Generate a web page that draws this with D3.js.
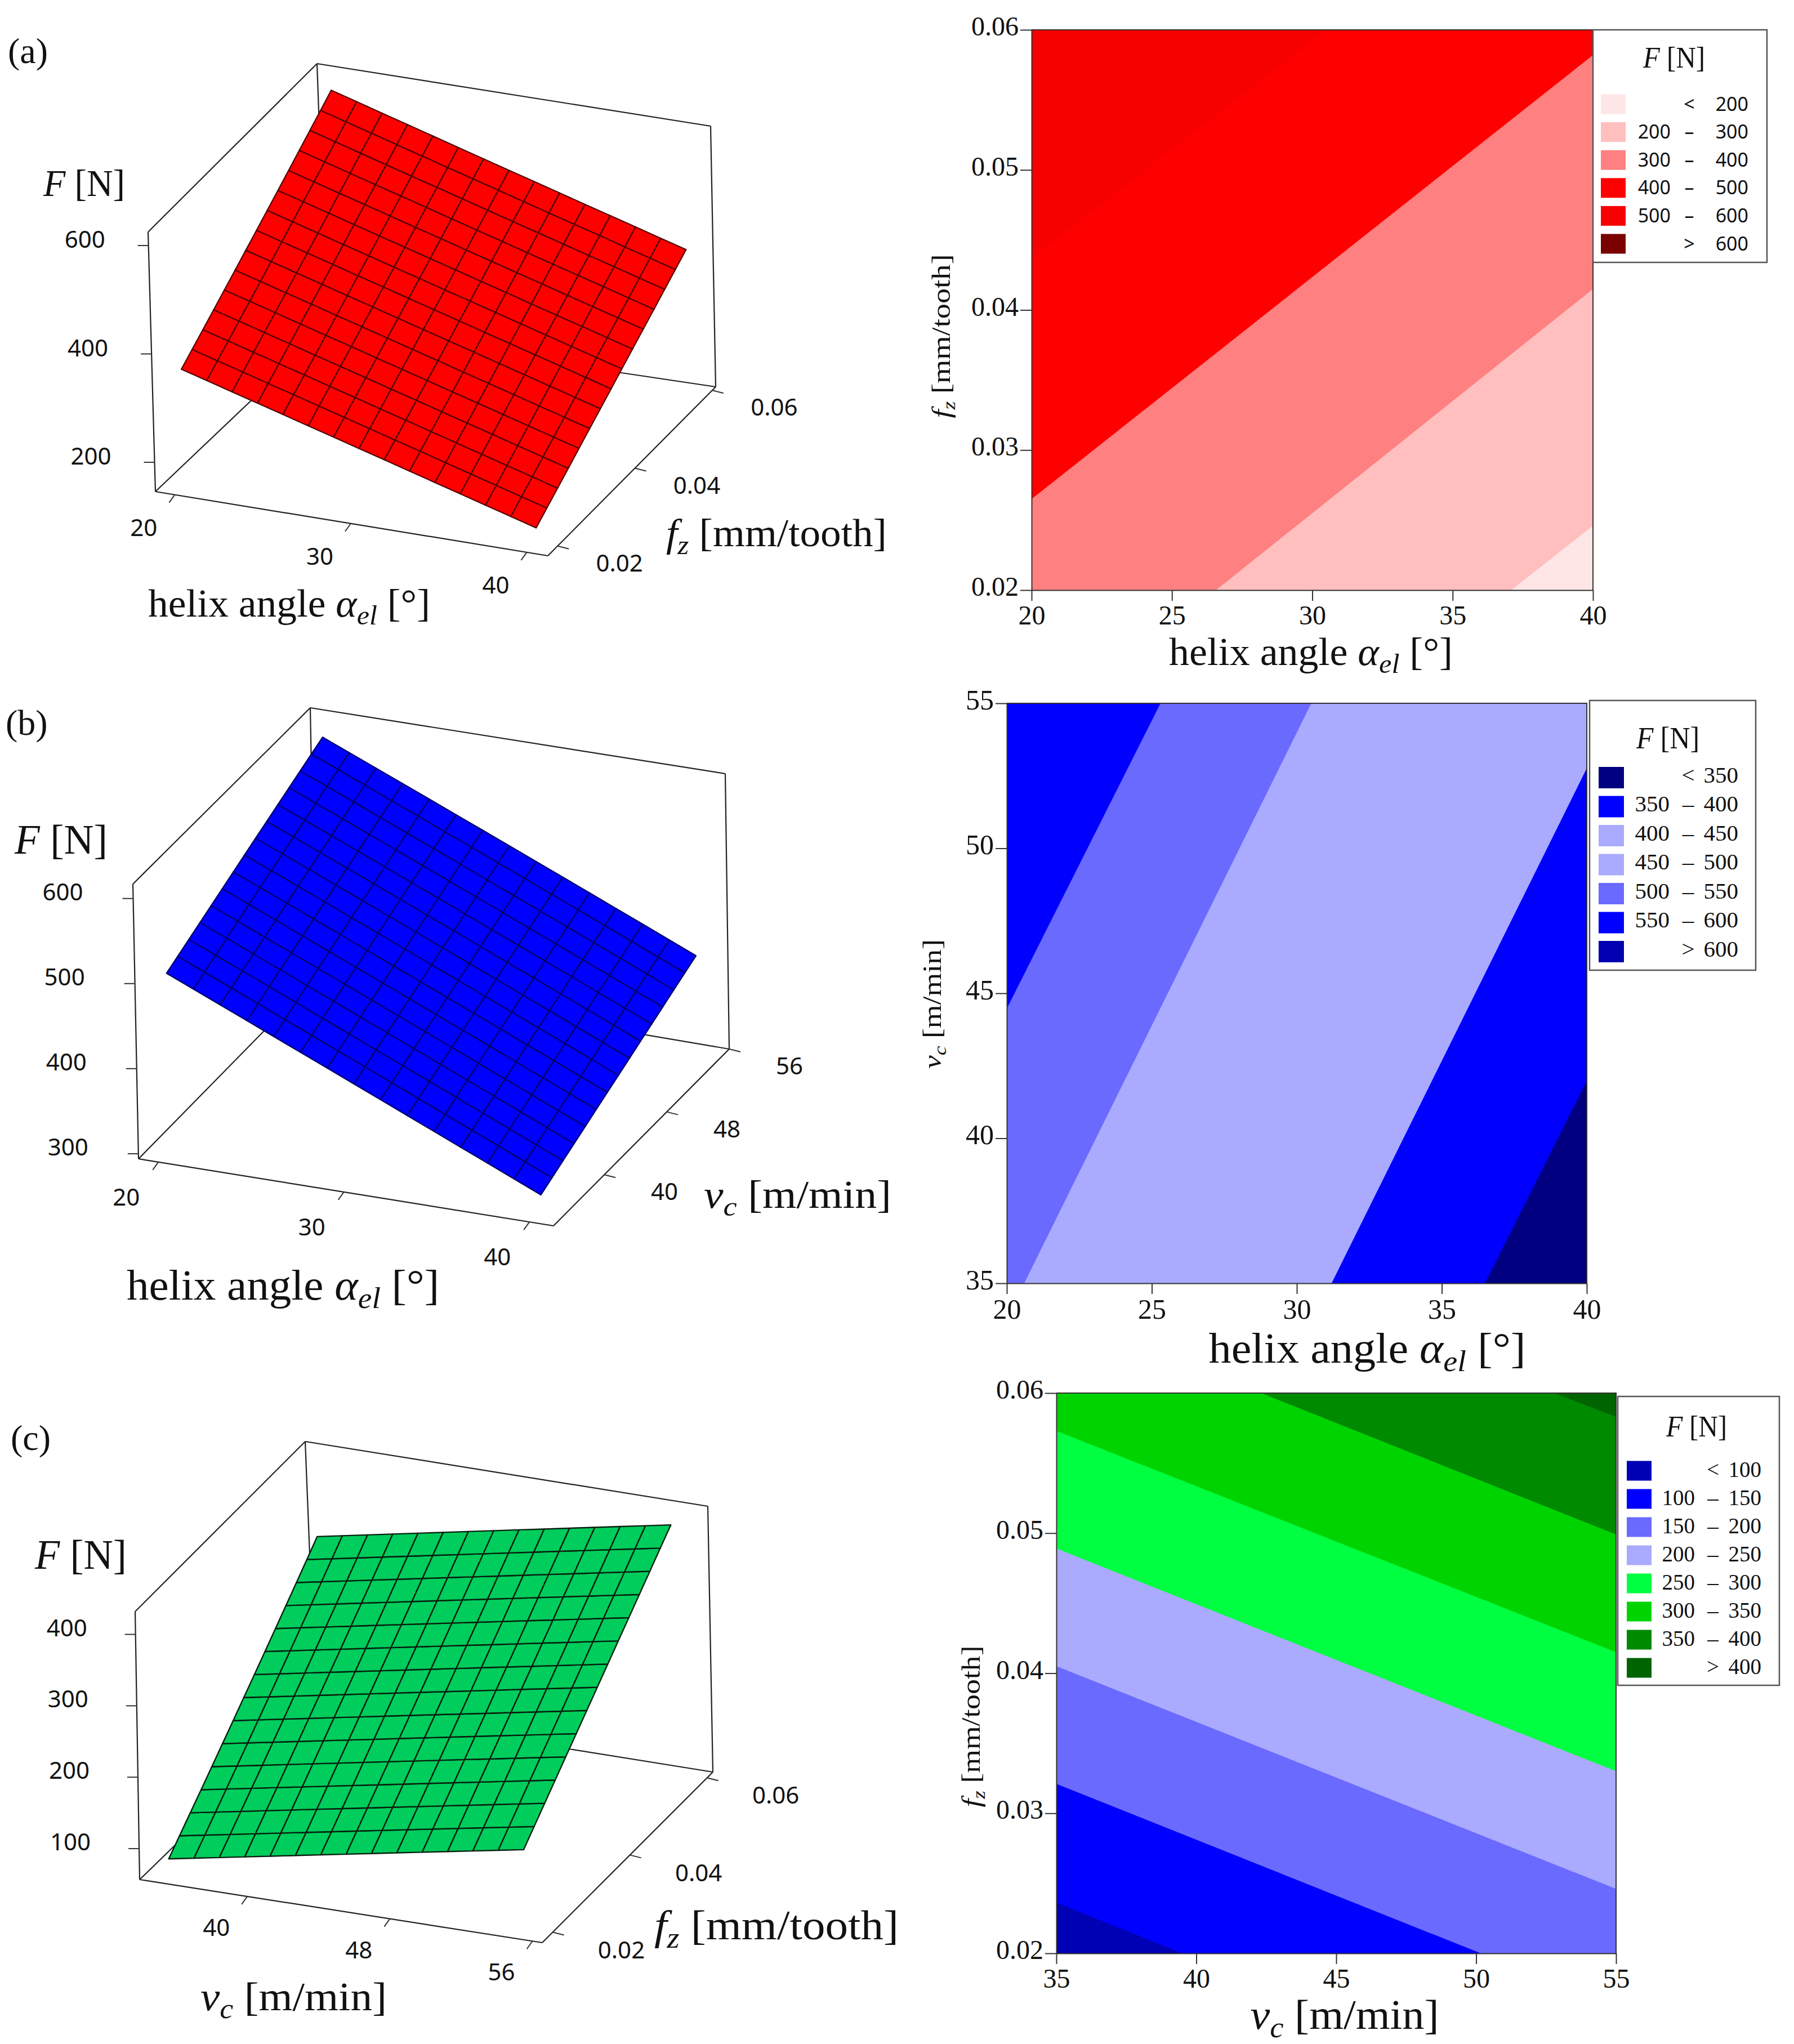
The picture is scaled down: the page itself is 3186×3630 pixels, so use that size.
<!DOCTYPE html>
<html>
<head>
<meta charset="utf-8">
<script src="https://cdnjs.cloudflare.com/ajax/libs/d3/7.8.5/d3.min.js"></script>
<style>
  body { margin: 0; background: #fff; }
  text { font-family: "Liberation Serif", serif; fill: #111; }
  .sans { font-family: "Noto Sans", sans-serif; }
</style>
</head>
<body>
<svg id="chart" width="3186" height="3630"></svg>
<script>
// ---- contour panels, values
const helixTicks = [20, 25, 30, 35, 40];
const fzTicks = [0.02, 0.03, 0.04, 0.05, 0.06];
const vcTicks = [35, 40, 45, 50, 55];

// each boundary: x0, y0, x1, y1 of a constant force line
const boundsA = [
  [37.09, 0.02, 40, 0.0246],
  [26.57, 0.02, 40, 0.0415],
  [20, 0.0265, 40, 0.0582],
  [20, 0.0437, 30.5, 0.06]
];
const boundsB = [
  [36.49, 35, 40, 41.98],
  [31.2, 35, 40, 52.76],
  [25.9, 35, 35.8, 55],
  [20.6, 35, 30.5, 55],
  [20, 44.47, 25.3, 55]
];
const boundsC = [
  [35, 0.02363, 39.5, 0.02],
  [35, 0.0321, 50.17, 0.02],
  [35, 0.0405, 55, 0.0246],
  [35, 0.0489, 55, 0.033],
  [35, 0.0573, 55, 0.0415],
  [42.32, 0.06, 55, 0.0499],
  [52.8, 0.06, 55, 0.0583]
];

const breaksA = [200, 300, 400, 500, 600];
const breaksB = [350, 400, 450, 500, 550, 600];
const breaksC = [100, 150, 200, 250, 300, 350, 400];

const coloursA = ["#ffe6e6", "#ffbfbf", "#ff8080", "#ff0000", "#f60000", "#7b0000"];
const coloursB = ["#000080", "#0000ff", "#aaaaff", "#aaaaff", "#6a6aff", "#0000ff", "#0000b0"];
const coloursC = ["#0000b4", "#0000ff", "#6a6aff", "#aaaaff", "#00ff40", "#00d400", "#008a00", "#006400"];

// ---- surface panels: extent of the sheet and force at its four corners [x0y0, x1y0, x0y1, x1y1]
const surfaceHelix = [20, 40];
const surfaceFzA = [0.02, 0.0594];
const surfaceVcB = [35, 55];
const surfaceVcC = [35, 55];
const surfaceFzC = [0.02, 0.059];
const forceA = [360, 173, 593, 403];
const forceB = [502, 312, 595, 408];
const forceC = [75, 167, 316, 413];

const ticksHelix3d = [20, 30, 40];
const ticksFz3d = [0.02, 0.04, 0.06];
const ticksVc3d = [40, 48, 56];
const ticksForceA = [200, 400, 600];
const ticksForceB = [300, 400, 500, 600];
const ticksForceC = [100, 200, 300, 400];

const svg = d3.select("#chart");

// label pieces: [text, italic, subscript]
const helixLabel = [["helix angle "], ["α", 1], ["el", 1, 1], [" [°]"]];
const fzLabel = [["f", 1], ["z", 1, 1], [" [mm/tooth]"]];
const vcLabel = [["v", 1], ["c", 1, 1], [" [m/min]"]];
const forceLabel = [["F", 1], [" [N]"]];

function drawLabel(x, y, parts, size, width, anchor, rotate) {
  const t = svg.append("text")
    .attr("x", x).attr("y", y)
    .attr("font-size", size)
    .attr("text-anchor", anchor || "start");
  if (rotate) t.attr("transform", `rotate(-90,${x},${y})`);
  if (width) t.attr("textLength", width).attr("lengthAdjust", "spacingAndGlyphs");
  let wasSub = false;
  parts.forEach(p => {
    const s = t.append("tspan").text(p[0]);
    if (p[1]) s.attr("font-style", "italic");
    if (p[2]) { s.attr("font-size", size * 0.7).attr("dy", size * 0.2); wasSub = true; }
    else if (wasSub) { s.attr("dy", -size * 0.2); wasSub = false; }
  });
  return t;
}

function drawContour(o) {
  const x = d3.scaleLinear().domain(o.xDomain).range([o.left, o.right]);
  const y = d3.scaleLinear().domain(o.yDomain).range([o.bottom, o.top]);
  const g = svg.append("g");

  g.append("clipPath").attr("id", o.id)
    .append("rect")
    .attr("x", o.left).attr("y", o.top)
    .attr("width", o.right - o.left).attr("height", o.bottom - o.top);

  const bands = g.append("g").attr("clip-path", `url(#${o.id})`);
  bands.append("rect")
    .attr("x", o.left).attr("y", o.top)
    .attr("width", o.right - o.left).attr("height", o.bottom - o.top)
    .attr("fill", o.colours[0]);

  // paint each higher side over the last one
  const hx = x(o.high[0]), hy = y(o.high[1]);
  o.bounds.forEach((b, i) => {
    const ax = x(b[0]), ay = y(b[1]), bx = x(b[2]), by = y(b[3]);
    const dx = bx - ax, dy = by - ay, len = Math.hypot(dx, dy);
    const ux = dx / len, uy = dy / len;
    let nx = -uy, ny = ux;
    if ((hx - ax) * nx + (hy - ay) * ny < 0) { nx = -nx; ny = -ny; }
    const far = 4000;
    const pts = [
      [ax - ux * far, ay - uy * far],
      [bx + ux * far, by + uy * far],
      [bx + ux * far + nx * far, by + uy * far + ny * far],
      [ax - ux * far + nx * far, ay - uy * far + ny * far]
    ];
    bands.append("polygon").attr("points", pts.join(" ")).attr("fill", o.colours[i + 1]);
  });

  const xAxis = g.append("g")
    .attr("transform", `translate(0,${o.bottom})`)
    .call(d3.axisBottom(x).tickValues(o.xTicks).tickSize(19).tickPadding(8).tickSizeOuter(0));
  const yAxis = g.append("g")
    .attr("transform", `translate(${o.left},0)`)
    .call(d3.axisLeft(y).tickValues(o.yTicks).tickSize(20).tickPadding(3).tickSizeOuter(0)
      .tickFormat(o.yFormat));
  g.selectAll(".domain, .tick line").attr("stroke", "#333").attr("stroke-width", 2);
  xAxis.selectAll("text").attr("font-size", o.tickSize).attr("font-family", "Liberation Serif").attr("fill", "#222");
  yAxis.selectAll("text").attr("font-size", o.tickSize).attr("font-family", "Liberation Serif").attr("fill", "#222")
    .attr("dy", "0.2em");

  g.append("path")
    .attr("d", `M${o.left},${o.top}H${o.right}V${o.bottom}`)
    .attr("fill", "none").attr("stroke", "#333").attr("stroke-width", 2);

  drawLabel(o.xLabelX, o.xLabelY, o.xLabel, o.xLabelSize, o.xLabelWidth, "middle");
  drawLabel(o.yLabelX, o.yLabelY, o.yLabel, o.yLabelSize, o.yLabelWidth, "middle", true);

  // legend
  const lg = o.legend;
  svg.append("rect")
    .attr("x", lg.left).attr("y", lg.top)
    .attr("width", lg.right - lg.left).attr("height", lg.bottom - lg.top)
    .attr("fill", "#fff").attr("stroke", "#555").attr("stroke-width", 2.5);
  drawLabel(lg.titleX, lg.titleY, forceLabel, lg.titleSize, lg.titleWidth, "middle");
  const row = d3.scaleLinear().domain([0, o.colours.length - 1]).range([lg.firstRow, lg.lastRow]);
  const n = o.breaks.length;
  o.colours.forEach((c, i) => {
    const cy = row(i);
    svg.append("rect")
      .attr("x", lg.swatchX).attr("y", cy - lg.swatchH / 2)
      .attr("width", lg.swatchW).attr("height", lg.swatchH)
      .attr("fill", c);
    const txt = (tx, label, anchor) => svg.append("text")
      .attr("class", lg.sans ? "sans" : null)
      .attr("x", tx).attr("y", cy + lg.textSize * 0.34 + lg.textDy)
      .attr("font-size", lg.textSize).attr("text-anchor", anchor).attr("fill", "#222")
      .text(label);
    if (i === 0) {
      txt(lg.midX, "<", "middle");
      txt(lg.rightX, o.breaks[0], "end");
    } else if (i === n) {
      txt(lg.midX, ">", "middle");
      txt(lg.rightX, o.breaks[n - 1], "end");
    } else {
      txt(lg.leftX, o.breaks[i - 1], "end");
      txt(lg.midX, "–", "middle");
      txt(lg.rightX, o.breaks[i], "end");
    }
  });
}

function drawSurface(o) {
  const sx = d3.scaleLinear().domain(o.xDomain).range([0, 1]);
  const sy = d3.scaleLinear().domain(o.yDomain).range([0, 1]);
  const sz = d3.scaleLinear().domain(o.zDomain).range([0, 1]);
  const P = o.corners;

  // box corners are not a true parallelepiped, blend them
  const mix = (a, b, t) => [a[0] + (b[0] - a[0]) * t, a[1] + (b[1] - a[1]) * t];
  function project(x, y, z) {
    const u = sx(x), v = sy(y), w = sz(z);
    const floor = mix(mix(P.p000, P.p100, u), mix(P.p010, P.p110, u), v);
    const roof = mix(mix(P.p001, P.p101, u), mix(P.p011, P.p111, u), v);
    return mix(floor, roof, w);
  }

  const g = svg.append("g");
  const edge = [
    [P.p000, P.p001], [P.p110, P.p111], [P.p010, P.p011],
    [P.p001, P.p011], [P.p011, P.p111],
    [P.p000, P.p100], [P.p100, P.p110], [P.p000, P.p010], [P.p010, P.p110]
  ];
  const line = d3.line();
  g.selectAll("path.edge").data(edge).join("path")
    .attr("class", "edge")
    .attr("d", line)
    .attr("fill", "none").attr("stroke", "#222").attr("stroke-width", 2.2);

  const [x0, x1] = o.xDomain, [y0, y1] = o.yDomain, [z0, z1] = o.zDomain;
  const tick = (a, b, labelOff, label, size) => {
    g.append("path").attr("d", line([a, [a[0] + b[0], a[1] + b[1]]]))
      .attr("stroke", "#333").attr("stroke-width", 2).attr("fill", "none");
    g.append("text").attr("class", "sans")
      .attr("x", a[0] + labelOff[0]).attr("y", a[1] + labelOff[1] + size * 0.36)
      .attr("text-anchor", "middle").attr("font-size", size).attr("fill", "#333")
      .text(label);
  };
  o.zTicks.forEach(t => tick(project(x0, y0, t), [-19, 0], o.zOff, t, o.tickFont));
  o.xTicks.forEach(t => tick(project(t, y0, z0), [-10, 14], o.xOff, t, o.tickFont));
  o.yTicks.forEach(t => tick(project(x1, t, z0), [20, 5], o.yOff, o.yFormat ? o.yFormat(t) : t, o.tickFont));

  // mesh
  const nx = o.cols, ny = o.rows;
  const ux = d3.scaleLinear().domain([0, nx]).range(o.sx);
  const uy = d3.scaleLinear().domain([0, ny]).range(o.sy);
  const fLow = d3.scaleLinear().domain(o.sx).range([o.force[0], o.force[1]]);
  const fHigh = d3.scaleLinear().domain(o.sx).range([o.force[2], o.force[3]]);
  const force = (x, y) => d3.scaleLinear().domain(o.sy).range([fLow(x), fHigh(x)])(y);
  const pt = (i, j) => {
    const x = ux(i), y = uy(j);
    return project(x, y, force(x, y));
  };
  const cells = [];
  d3.range(nx).forEach(i => d3.range(ny).forEach(j => {
    cells.push([pt(i, j), pt(i + 1, j), pt(i + 1, j + 1), pt(i, j + 1)]);
  }));
  g.selectAll("path.cell").data(cells).join("path")
    .attr("class", "cell")
    .attr("d", d => line(d) + "Z")
    .attr("fill", o.fill).attr("stroke", o.meshColour).attr("stroke-width", o.meshWidth)
    .attr("stroke-linejoin", "round");

  drawLabel(o.tagX, o.tagY, [[o.tag]], 64);
  drawLabel(o.forceX, o.forceY, forceLabel, o.forceSize, o.forceWidth);
  drawLabel(o.xLabelX, o.xLabelY, o.xLabel, o.xLabelSize, o.xLabelWidth);
  drawLabel(o.yLabelX, o.yLabelY, o.yLabel, o.yLabelSize, o.yLabelWidth);
}

const fz2 = d3.format(".2f");

// (a) ------------------------------------------------------------------
drawSurface({
  tag: "(a)", tagX: 14, tagY: 112,
  corners: {
    p000: [276, 873], p100: [973, 987], p110: [1271, 687], p010: [580, 584],
    p001: [263, 412], p101: [964, 524], p111: [1262, 224], p011: [563, 113]
  },
  xDomain: [18.9, 41.2], yDomain: [0.0175, 0.0609], zDomain: [146, 625],
  xTicks: ticksHelix3d, yTicks: ticksFz3d, zTicks: ticksForceA, yFormat: fz2,
  sx: surfaceHelix, sy: surfaceFzA, force: forceA, cols: 14, rows: 14,
  fill: "#ff0000", meshColour: "#500000", meshWidth: 2.2,
  tickFont: 42, zOff: [-113, -11], xOff: [-55, 58], yOff: [110, 30],
  forceX: 77, forceY: 348, forceSize: 68, forceWidth: 145,
  xLabel: helixLabel, xLabelX: 263, xLabelY: 1095, xLabelSize: 70, xLabelWidth: 501,
  yLabel: fzLabel, yLabelX: 1183, yLabelY: 970, yLabelSize: 70, yLabelWidth: 392
});
drawContour({
  id: "clipA", left: 1832, right: 2829, top: 53, bottom: 1048,
  xDomain: [20, 40], yDomain: [0.02, 0.06], xTicks: helixTicks, yTicks: fzTicks, yFormat: fz2,
  bounds: boundsA, high: [20, 0.06], colours: coloursA, breaks: breaksA, tickSize: 48,
  xLabel: helixLabel, xLabelX: 2328, xLabelY: 1181, xLabelSize: 70, xLabelWidth: 504,
  yLabel: fzLabel, yLabelX: 1687, yLabelY: 597, yLabelSize: 46, yLabelWidth: 291,
  legend: {
    left: 2829, right: 3138, top: 53, bottom: 466, titleX: 2973, titleY: 120, titleSize: 52, titleWidth: 110,
    firstRow: 185, lastRow: 433, swatchX: 2843, swatchW: 44, swatchH: 35,
    textSize: 34, textDy: 0, sans: true, leftX: 2967, midX: 3000, rightX: 3105
  }
});

// (b) ------------------------------------------------------------------
drawSurface({
  tag: "(b)", tagX: 10, tagY: 1305,
  corners: {
    p000: [246, 2058], p100: [983, 2177], p110: [1295, 1863], p010: [560, 1738],
    p001: [236, 1570], p101: [976, 1688], p111: [1288, 1374], p011: [551, 1257]
  },
  xDomain: [18.93, 41.3], yDomain: [33.5, 56], zDomain: [294, 617],
  xTicks: ticksHelix3d, yTicks: ticksVc3d, zTicks: ticksForceB,
  sx: surfaceHelix, sy: surfaceVcB, force: forceB, cols: 14, rows: 14,
  fill: "#0000ff", meshColour: "#000070", meshWidth: 2.4,
  tickFont: 42, zOff: [-125, -12], xOff: [-57, 62], yOff: [107, 30],
  forceX: 26, forceY: 1516, forceSize: 74, forceWidth: 165,
  xLabel: helixLabel, xLabelX: 225, xLabelY: 2308, xLabelSize: 76, xLabelWidth: 555,
  yLabel: vcLabel, yLabelX: 1250, yLabelY: 2145, yLabelSize: 70, yLabelWidth: 333
});
drawContour({
  id: "clipB", left: 1788, right: 2818, top: 1249, bottom: 2279,
  xDomain: [20, 40], yDomain: [35, 55], xTicks: helixTicks, yTicks: vcTicks,
  yFormat: d3.format("d"),
  bounds: boundsB, high: [20, 55], colours: coloursB, breaks: breaksB, tickSize: 50,
  xLabel: helixLabel, xLabelX: 2428, xLabelY: 2420, xLabelSize: 76, xLabelWidth: 563,
  yLabel: vcLabel, yLabelX: 1671, yLabelY: 1783, yLabelSize: 46, yLabelWidth: 230,
  legend: {
    left: 2823, right: 3118, top: 1244, bottom: 1723, titleX: 2962, titleY: 1329, titleSize: 54, titleWidth: 112,
    firstRow: 1381, lastRow: 1690, swatchX: 2839, swatchW: 45, swatchH: 38,
    textSize: 41, textDy: -5, leftX: 2965, midX: 2998, rightX: 3087
  }
});

// (c) ------------------------------------------------------------------
drawSurface({
  tag: "(c)", tagX: 19, tagY: 2575,
  corners: {
    p000: [248, 3338], p100: [963, 3450], p110: [1266, 3147], p010: [561, 3034],
    p001: [240, 2862], p101: [954, 2978], p111: [1257, 2675], p011: [542, 2560]
  },
  xDomain: [33.96, 56.55], yDomain: [0.0173, 0.0615], zDomain: [56.6, 432],
  xTicks: ticksVc3d, yTicks: ticksFz3d, zTicks: ticksForceC, yFormat: fz2,
  sx: surfaceVcC, sy: surfaceFzC, force: forceC, cols: 14, rows: 14,
  fill: "#00cd5c", meshColour: "#05200f", meshWidth: 2.4,
  tickFont: 42, zOff: [-122, -12], xOff: [-55, 55], yOff: [122, 31],
  forceX: 62, forceY: 2786, forceSize: 74, forceWidth: 163,
  xLabel: vcLabel, xLabelX: 356, xLabelY: 3570, xLabelSize: 72, xLabelWidth: 331,
  yLabel: fzLabel, yLabelX: 1162, yLabelY: 3444, yLabelSize: 74, yLabelWidth: 434
});
drawContour({
  id: "clipC", left: 1876, right: 2870, top: 2474, bottom: 3469,
  xDomain: [35, 55], yDomain: [0.02, 0.06], xTicks: vcTicks, yTicks: fzTicks, yFormat: fz2,
  bounds: boundsC, high: [55, 0.06], colours: coloursC, breaks: breaksC, tickSize: 48,
  xLabel: vcLabel, xLabelX: 2388, xLabelY: 3603, xLabelSize: 74, xLabelWidth: 335,
  yLabel: fzLabel, yLabelX: 1740, yLabelY: 3066, yLabelSize: 46, yLabelWidth: 287,
  legend: {
    left: 2873, right: 3160, top: 2480, bottom: 2993, titleX: 3013, titleY: 2551, titleSize: 52, titleWidth: 108,
    firstRow: 2612, lastRow: 2962, swatchX: 2889, swatchW: 44, swatchH: 35,
    textSize: 39, textDy: -2, leftX: 3010, midX: 3042, rightX: 3128
  }
});
</script>
</body>
</html>
